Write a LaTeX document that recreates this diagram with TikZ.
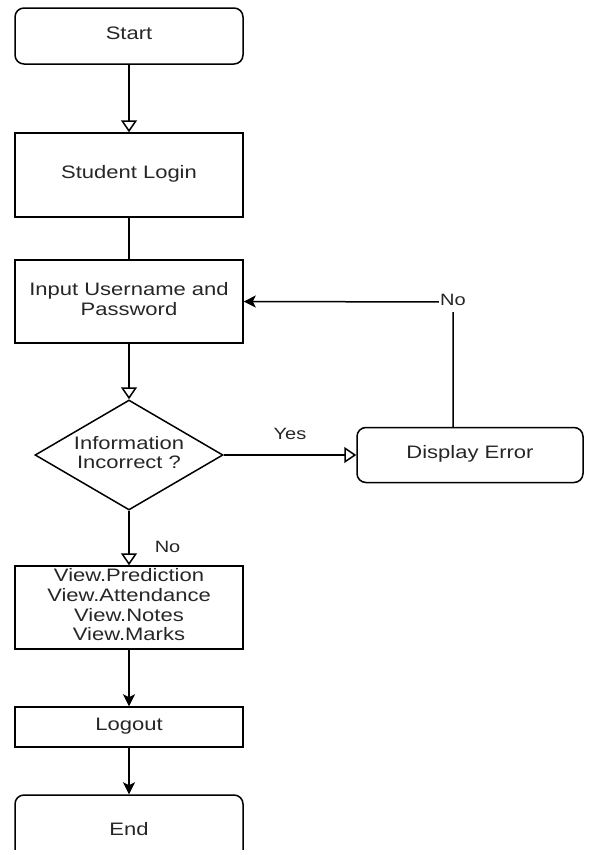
\documentclass[tikz,border=0pt]{standalone}
\usepackage{fontspec}
\setmainfont{Liberation Sans}
\usepackage{graphicx}
\usetikzlibrary{shapes.geometric,arrows.meta}
\newcommand\txt[1]{\scalebox{1}[0.82]{\begin{tabular}{@{}c@{}}#1\end{tabular}}}

\begin{document}
\begin{tikzpicture}[x=1pt,y=-1pt,
	box/.style={draw, line width=1.5pt, minimum width=228pt, inner sep=0pt, text=black!85, font=\fontsize{22}{24}\selectfont},
	term/.style={box, rounded corners=9pt},
	dec/.style={draw, diamond, aspect=1.71, line width=1.5pt, minimum width=188pt, minimum height=110pt, inner sep=0pt, text=black!85, font=\fontsize{22}{24}\selectfont},
	lbl/.style={inner sep=1pt, text=black!85, font=\fontsize{20}{22}\selectfont},
	line/.style={line width=1.5pt},
	openarr/.style={line, -{Triangle[open,length=12pt,width=16pt]}},
	fillarr/.style={line, -{Stealth[length=12pt,width=12pt,inset=3pt]}}]
			%%%%% START %%%%%
			\useasboundingbox (0,0) rectangle (590,855);
			
			\node[term, minimum height=56pt] (start) at (129, 36) {\txt{Start}};
			\node[box, minimum height=84pt] (login) at (129, 175) {\txt{Student Login}};
			\node[box, minimum height=83pt] (input) at (129, 301.5) {\txt{Input Username and\\Password}};
			\node[dec] (check) at (129, 455) {\txt{Information\\Incorrect ?}};
			\node[term, minimum width=226pt, minimum height=55pt] (error) at (470, 455) {\txt{Display Error}};
			\node[box, minimum height=83pt] (view) at (129, 607.5) {\txt{View.Prediction\\View.Attendance\\View.Notes\\View.Marks}};
			\node[box, minimum height=40pt] (logout) at (129, 727) {\txt{Logout}};
			\begin{scope}
				\clip (0,0) rectangle (590,849);
				\node[term, minimum height=74pt] (end) at (129, 832) {\txt{End}};
			\end{scope}
			
			\coordinate (turn) at (453, 302);
			
			\draw[openarr] (start) -- (login);
			\draw[line] (login) -- (input);
			\draw[openarr] (input) -- (check);
			\draw[openarr] (check) -- node[lbl, above=8pt] {\txt{Yes}} (error);
			\draw[fillarr] (turn |- error.north) -- (turn) -- (input.east);
			\node[lbl, fill=white] at (turn) {\txt{No}};
			\draw[openarr] (check) -- node[lbl, pos=0.7, right=24pt] {\txt{No}} (view);
			\draw[fillarr] (view) -- (logout);
			\draw[fillarr] (logout) -- (end);
			
			%%%%% END %%%%%
\end{tikzpicture}
\end{document}
